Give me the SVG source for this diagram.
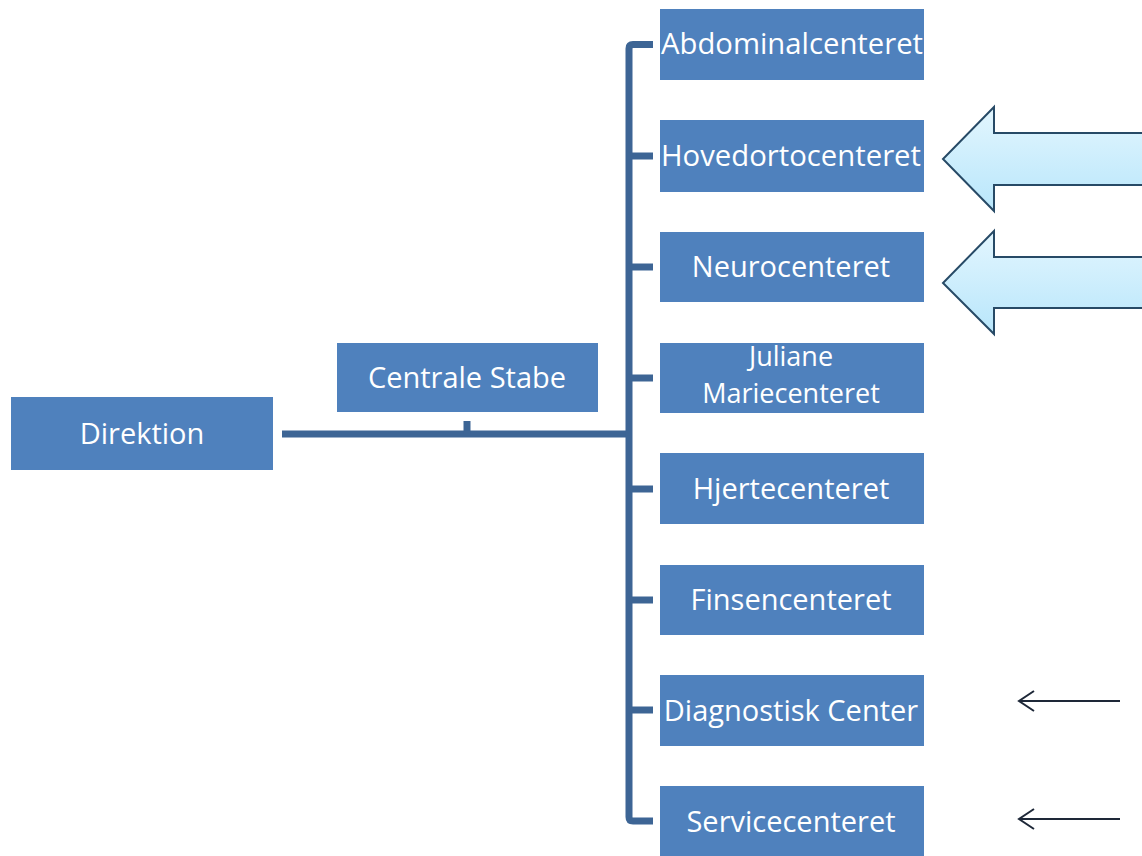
<svg xmlns="http://www.w3.org/2000/svg" width="1142" height="856" viewBox="0 0 1142 856">
<style>
.box{fill:#4f81bd;}
.t{font-family:"Open Sans","Noto Sans",sans-serif;font-size:29px;fill:#ffffff;text-anchor:middle;}
.t2{font-size:27px;}
.c{fill:none;stroke:#3d6595;stroke-width:7;stroke-linejoin:round;stroke-linecap:butt;}
.blk{fill:url(#g);stroke:#274a66;stroke-width:2;}
.thin{fill:none;stroke:#1e2838;stroke-width:2;}
</style>
<defs>
<linearGradient id="g" x1="0" y1="0" x2="0" y2="1">
<stop offset="0" stop-color="#e3f6fe"/>
<stop offset="1" stop-color="#b8e6fb"/>
</linearGradient>
</defs>
<rect width="1142" height="856" fill="#ffffff"/>
<g id="connectors">
<path class="c" d="M282 434 H629"/>
<path class="c" d="M467 421 V434"/>
<path class="c" d="M653 44.5 H633 Q629 44.5 629 48.5 V817 Q629 821 633 821 H653"/>
<path class="c" d="M629 156 H653"/>
<path class="c" d="M629 267 H653"/>
<path class="c" d="M629 378 H653"/>
<path class="c" d="M629 489 H653"/>
<path class="c" d="M629 600 H653"/>
<path class="c" d="M629 710 H653"/>
</g>
<g id="direktion"><rect class="box" x="11" y="397" width="262" height="73"/><text class="t" x="142" y="444">Direktion</text></g>
<g id="centrale-stabe"><rect class="box" x="337" y="343" width="261" height="69"/><text class="t" x="467" y="388">Centrale Stabe</text></g>
<g id="abdominalcenteret"><rect class="box" x="660" y="9" width="264" height="71"/><text class="t" x="792" y="54" textLength="262" lengthAdjust="spacingAndGlyphs">Abdominalcenteret</text></g>
<g id="hovedortocenteret"><rect class="box" x="660" y="120" width="264" height="72"/><text class="t" x="791" y="166" textLength="260" lengthAdjust="spacingAndGlyphs">Hovedortocenteret</text></g>
<g id="neurocenteret"><rect class="box" x="660" y="232" width="264" height="70"/><text class="t" x="791" y="277">Neurocenteret</text></g>
<g id="juliane-mariecenteret"><rect class="box" x="660" y="343" width="264" height="70"/><text class="t t2" x="791" y="366">Juliane</text><text class="t t2" x="791" y="403">Mariecenteret</text></g>
<g id="hjertecenteret"><rect class="box" x="660" y="453" width="264" height="71"/><text class="t" x="791" y="499">Hjertecenteret</text></g>
<g id="finsencenteret"><rect class="box" x="660" y="565" width="264" height="70"/><text class="t" x="791" y="610">Finsencenteret</text></g>
<g id="diagnostisk-center"><rect class="box" x="660" y="675" width="264" height="71"/><text class="t" x="791" y="721">Diagnostisk Center</text></g>
<g id="servicecenteret"><rect class="box" x="660" y="786" width="264" height="72"/><text class="t" x="791" y="832">Servicecenteret</text></g>
<g id="block-arrows">
<path class="blk" d="M1144 133 H994 V107 L943 159 L994 211 V185 H1144"/>
<path class="blk" d="M1144 257 H994 V231 L943 283 L994 334 V308 H1144"/>
</g>
<g id="thin-arrows">
<path class="thin" d="M1120 701 H1019 M1034 691 L1019 701 L1034 711"/>
<path class="thin" d="M1120 819 H1019 M1034 809 L1019 819 L1034 829"/>
</g>
</svg>
